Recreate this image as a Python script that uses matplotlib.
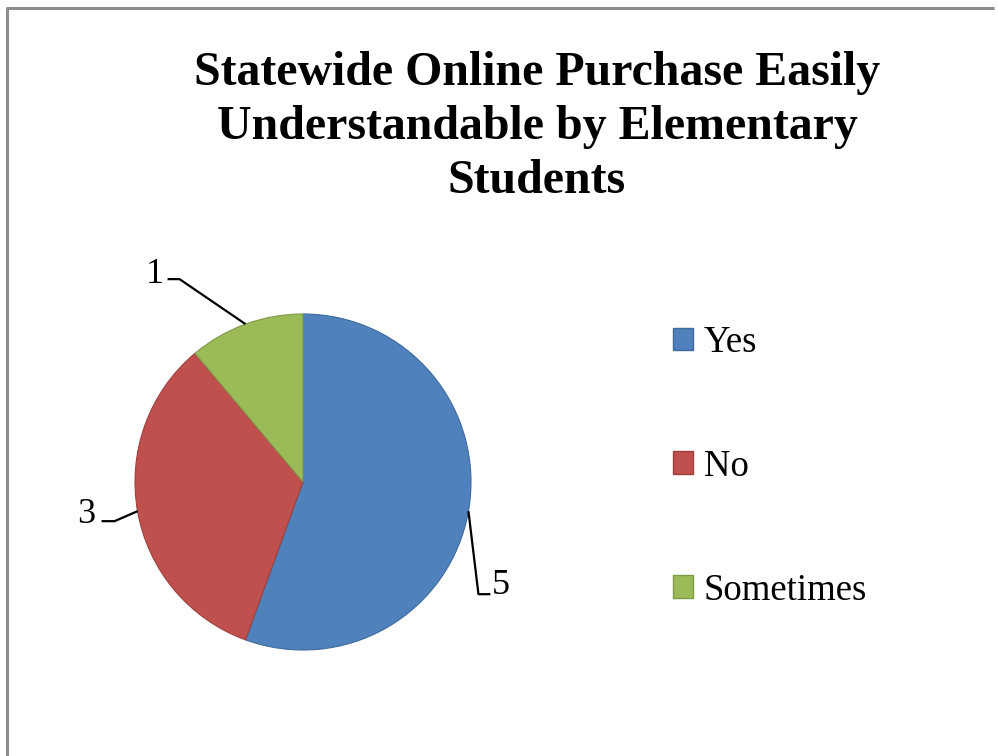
import numpy as np
import matplotlib.pyplot as plt

# answers to the survey question
categories = ['Yes', 'No', 'Sometimes']
counts = [5, 3, 1]
colors = ['#4F81BD', '#C0504D', '#9BBB59']
edges = ['#3F6A9C', '#9E403D', '#7E9A47']

title = 'Statewide Online Purchase Easily\nUnderstandable by Elementary\nStudents'

W, H = 998, 756
fig = plt.figure(figsize=(W / 100, H / 100), dpi=100)
ax = fig.add_axes([0, 0, 1, 1])

serif = ['Liberation Serif', 'DejaVu Serif']

# pie, in pixel units so the layout is easy to place
cx, cy, r = 303, H - 482, 168
wedges, _ = ax.pie(counts, colors=colors, startangle=90, counterclock=False,
                   center=(cx, cy), radius=r, frame=True,
                   wedgeprops=dict(linewidth=0.8))
for w, ec in zip(wedges, edges):
    w.set_edgecolor(ec)
ax.set_xlim(0, W)
ax.set_ylim(0, H)
ax.axis('off')

# value labels with bent leader lines: elbow offset, horizontal run, text gap
leaders = {
    'Yes': ((10, -83), 12, (1, 9)),
    'No': ((-23, -10), -13, (-6, 7)),
    'Sometimes': ((-66, 45), -12, (-4, 5)),
}
for w, cat, n in zip(wedges, categories, counts):
    mid = np.deg2rad((w.theta1 + w.theta2) / 2)
    px, py = cx + r * np.cos(mid), cy + r * np.sin(mid)
    (dx, dy), hx, (tx, ty) = leaders[cat]
    ex, ey = px + dx, py + dy
    ax.plot([px, ex, ex + hx], [py, ey, ey], color='black', lw=1.6,
            solid_capstyle='butt')
    ha = 'left' if hx > 0 else 'right'
    ax.text(ex + hx + tx, ey + ty, str(n), ha=ha, va='center',
            fontsize=26, family=serif)

ax.text(537, H - 127, title, ha='center', va='center', fontsize=34.5,
        fontweight='bold', family=serif, linespacing=1.28)

leg = ax.legend(wedges, categories, loc='upper left',
                bbox_to_anchor=(640 / W, 1 - 292 / H), frameon=False,
                prop=dict(family=serif, size=26.5), handlelength=0.55,
                handleheight=0.55, handletextpad=0.28, labelspacing=2.43)
for h in leg.legend_handles:
    h.set_linewidth(1)

# chart frame: only the top and left edges are visible
ax.plot([7, 7], [0, H - 8], color='#8c8c8c', lw=2.2, solid_capstyle='butt')
ax.plot([6, 994], [H - 8, H - 8], color='#8c8c8c', lw=2.2, solid_capstyle='butt')

fig.savefig('out.png', dpi=100)
